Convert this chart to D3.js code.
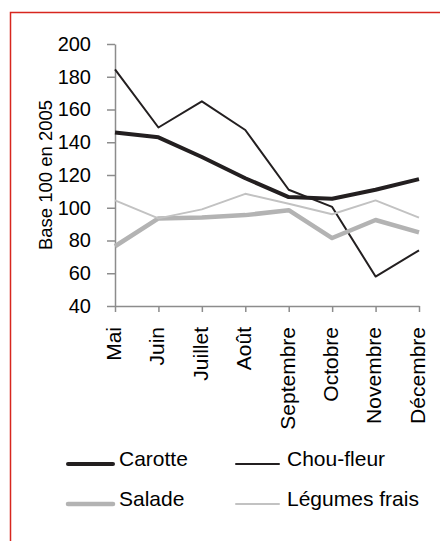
<!DOCTYPE html>
<html>
<head>
<meta charset="utf-8">
<script src="https://cdn.jsdelivr.net/npm/d3@7"></script>
<style>
  body { margin: 0; background: #fff; }
  svg { display: block; font-family: "Liberation Sans", Arial, sans-serif; }
</style>
</head>
<body>
<div id="chart"></div>
<script>
/* Prix des légumes, base 100 en 2005 */

const months = ["Mai", "Juin", "Juillet", "Août", "Septembre", "Octobre", "Novembre", "Décembre"];
const carotte = [146, 143, 131, 118, 106.5, 105.5, 111, 117.5];
const chouFleur = [184.5, 149, 165, 147.5, 111, 100.5, 58, 74];
const salade = [76.5, 93.5, 94, 95.5, 98.5, 81.5, 92.5, 85];
const legumesFrais = [104.5, 93.5, 99, 108.5, 102.5, 96, 104.5, 94];
const yTicks = [40, 60, 80, 100, 120, 140, 160, 180, 200];

const series = [
    { name: "Carotte", values: carotte, color: "#231f20", width: 4 },
    { name: "Chou-fleur", values: chouFleur, color: "#231f20", width: 2 },
    { name: "Salade", values: salade, color: "#b3b3b3", width: 4.5 },
    { name: "Légumes frais", values: legumesFrais, color: "#c2c2c2", width: 2 }
];

const width = 440,
      height = 541,
      margin = ({ top: 44, right: 21, bottom: 235, left: 115 });

let svg = d3.select("#chart")
    .append("svg")
    .attr("width", width)
    .attr("height", height);

// red frame, cut by the window on the right and bottom
svg.append("rect")
    .attr("x", 10.5)
    .attr("y", 12.5)
    .attr("width", 500)
    .attr("height", 600)
    .attr("fill", "none")
    .attr("stroke", "#d7261e")
    .attr("stroke-width", 1.5);

let x = d3.scalePoint()
    .domain(months)
    .range([margin.left, width - margin.right]);

let y = d3.scaleLinear()
    .domain([40, 200])
    .range([height - margin.bottom, margin.top]);

/* Axes */
let yAxis = svg.append("g")
    .attr("transform", `translate(${margin.left},0)`)
    .call(d3.axisLeft(y).tickValues(yTicks).tickSize(8).tickPadding(16).tickSizeOuter(0));

yAxis.selectAll("text")
    .style("font-size", "20px")
    .attr("fill", "#000");

let xAxis = svg.append("g")
    .attr("transform", `translate(0,${height - margin.bottom})`)
    .call(d3.axisBottom(x).tickSize(6).tickSizeOuter(0));

xAxis.selectAll("text")
    .style("font-size", "21px")
    .attr("fill", "#000")
    .attr("text-anchor", "end")
    .attr("dy", "0.35em")
    .attr("transform", "translate(-2,21) rotate(-90)")
    .attr("x", 0)
    .attr("y", 0);

svg.selectAll(".domain, .tick line")
    .attr("stroke", "#8c8c8c")
    .attr("stroke-width", 1.5);

svg.append("text")
    .attr("transform", `translate(52,175) rotate(-90)`)
    .attr("text-anchor", "middle")
    .style("font-size", "18.5px")
    .text("Base 100 en 2005");

/* Lines */
let line = d3.line()
    .x((d, i) => x(months[i]))
    .y(d => y(d));

svg.selectAll(".serie")
    .data(series)
    .join("path")
    .attr("class", "serie")
    .attr("fill", "none")
    .attr("stroke", d => d.color)
    .attr("stroke-width", d => d.width)
    .attr("stroke-linejoin", "round")
    .attr("d", d => line(d.values));

/* Legend */
let legend = svg.selectAll(".legend")
    .data(series)
    .join("g")
    .attr("class", "legend")
    .attr("transform", (d, i) => `translate(${i % 2 ? 236 : 68},${i < 2 ? 464 : 504})`);

legend.append("line")
    .attr("x1", 0)
    .attr("x2", (d, i) => i % 2 ? 43 : 45)
    .attr("stroke", d => d.color)
    .attr("stroke-width", d => d.width)
    .attr("stroke-linecap", "round");

legend.append("text")
    .attr("x", 51)
    .attr("y", 0)
    .attr("dy", "0.1em")
    .style("font-size", "21px")
    .text(d => d.name);
</script>
</body>
</html>
